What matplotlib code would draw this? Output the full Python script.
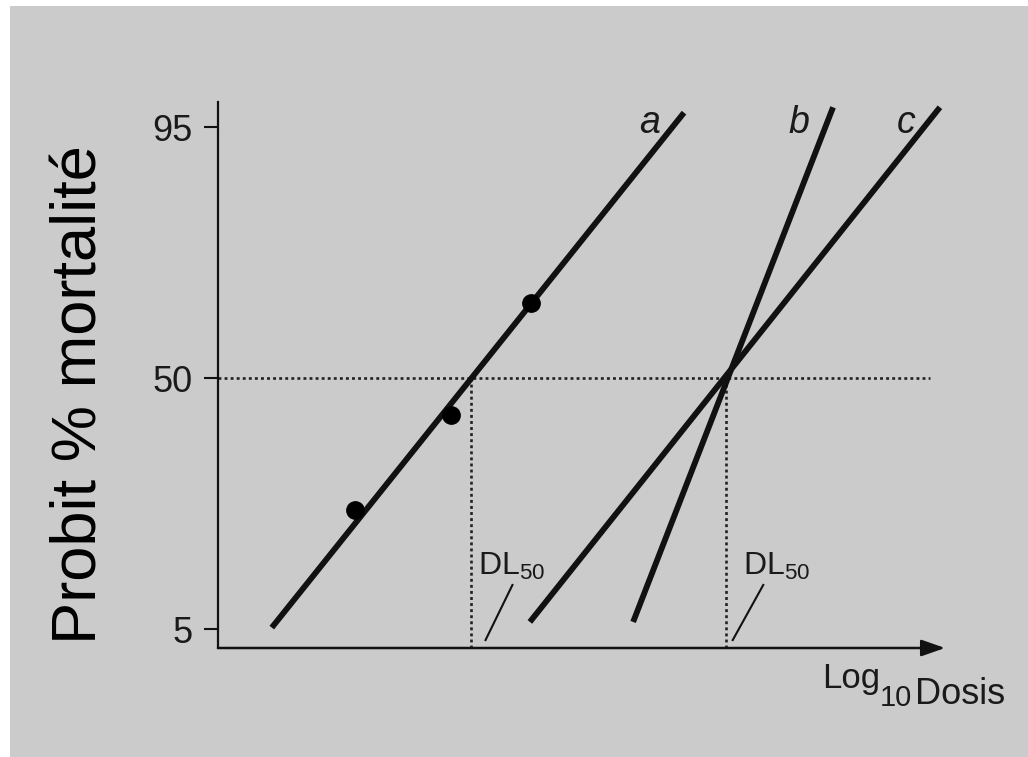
import matplotlib
matplotlib.use("Agg")
import matplotlib.pyplot as plt
from matplotlib.patches import Rectangle
from statistics import NormalDist

plt.rcParams['font.family'] = ['Liberation Sans', 'DejaVu Sans']
plt.rcParams['mathtext.fontset'] = 'custom'
plt.rcParams['mathtext.rm'] = 'Liberation Sans'
plt.rcParams['mathtext.it'] = 'Liberation Sans:italic'

# ---- data (x: log10 dose, arbitrary units; y: % mortality on probit scale) ----
line_a_x = [0.74, 6.41]
line_a_pct = [5.1, 95.9]
line_b_x = [5.71, 8.46]
line_b_pct = [5.5, 96.2]
line_c_x = [4.29, 9.93]
line_c_pct = [5.5, 96.2]
line_names = ['a', 'b', 'c']
obs_x = [1.88, 3.20, 4.31]
obs_pct = [19.4, 40.4, 68.9]
dl50_x = [3.48, 6.99]
ytick_pct = [5, 50, 95]
ytick_labels = ['5', '50', '95']
hline_end_x = 9.79

nd = NormalDist()
def probit(p):
    return nd.inv_cdf(p / 100.0)

W, H = 1028, 757
fig = plt.figure(figsize=(W / 100, H / 100), dpi=100, facecolor='white')

def fx(x):
    return x / W
def fy(y):
    return 1 - y / H

# gray scanned background
fig.patches.append(Rectangle((fx(10), -0.01), 1.02 - fx(10), fy(6) + 0.01, transform=fig.transFigure,
                             facecolor='#cbcbcb', edgecolor='none', zorder=-10))

left, right, top, bottom = 218, 945, 102, 648
ax = fig.add_axes([fx(left), fy(bottom), (right - left) / W, (bottom - top) / H])
ax.set_facecolor('none')
ax.set_xlim(0, 10)
ax.set_ylim(-1.769, 1.809)

ink = '#111111'
txt = '#1a1a1a'
for s in ['top', 'right', 'bottom']:
    ax.spines[s].set_visible(False)
ax.spines['left'].set_linewidth(1.6)
ax.spines['left'].set_color(ink)

# x axis with arrow
ax.annotate('', xy=(1, 0), xytext=(0, 0), xycoords='axes fraction',
            arrowprops=dict(arrowstyle='-|>,head_length=0.4,head_width=0.14',
                            lw=1.8, color=ink, mutation_scale=36,
                            shrinkA=0, shrinkB=0))

ax.set_xticks([])
ax.set_yticks([probit(p) for p in ytick_pct])
ax.set_yticklabels(ytick_labels, fontsize=26, color=txt)
ax.tick_params(axis='y', length=10, width=1.5, pad=8, color=ink)

# reference dotted lines
dot = (0, (1.1, 1.2))
ax.plot([0, hline_end_x], [0, 0], color='#222222', lw=1.9, ls=dot)
for d in dl50_x:
    ax.plot([d, d], [ax.get_ylim()[0], 0], color='#222222', lw=1.9, ls=dot)

# probit lines
lines = [(line_a_x, line_a_pct), (line_b_x, line_b_pct), (line_c_x, line_c_pct)]
for (xs, ps), name in zip(lines, line_names):
    ys = [probit(p) for p in ps]
    ax.plot(xs, ys, color=ink, lw=4.2, solid_capstyle='butt')
    ax.text(xs[1] - 0.33, 1.605, name, fontsize=27, style='italic',
            ha='right', va='baseline', color=txt)

# observed points
ax.plot(obs_x, [probit(p) for p in obs_pct], 'o', color='black', ms=12.5, zorder=5)

# DL50 labels with slash pointers
label_off = [0.10, 0.23]
slash_off = [(0.20, 0.57), (0.09, 0.51)]
for d, lo, (s0, s1) in zip(dl50_x, label_off, slash_off):
    ax.text(d + lo, -1.292, r'DL$_{50}$', fontsize=23, ha='left', va='baseline', color=txt)
    ax.plot([d + s0, d + s1], [-1.717, -1.356], color=ink, lw=1.5)

# x label: Log10 Dosis
t1 = fig.text(fx(822), fy(688), 'Log', fontsize=25, ha='left', va='baseline', color=txt)
t2 = ax.annotate('10', xy=(1, 0), xycoords=t1, xytext=(0, -8), textcoords='offset points',
                 fontsize=21, ha='left', va='baseline', color=txt)
t3 = ax.annotate('Dosis', xy=(1, 0), xycoords=t2, xytext=(2, 6), textcoords='offset points',
                 fontsize=26, ha='left', va='baseline', color=txt)

# y label
fig.text(fx(97), fy(395), 'Probit % mortalité', fontsize=45.5, rotation=90,
         rotation_mode='anchor', ha='center', va='baseline', color='black')

fig.savefig('out.png', dpi=100, facecolor='white')
